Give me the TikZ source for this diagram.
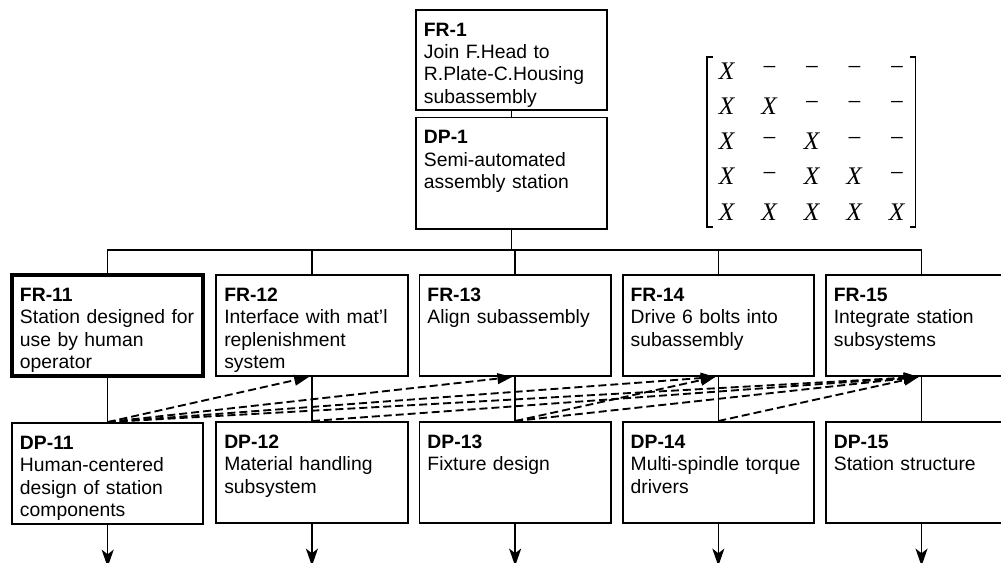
\documentclass[tikz,border=0pt]{standalone}
\usepackage{fontspec}
\setmainfont{Liberation Sans}
\newfontfamily\mtxfont{Liberation Serif}
\usepackage{tikz}
\usetikzlibrary{arrows.meta,positioning,matrix}
\newcommand{\nx}{\textit{X}}
\newcommand{\nd}{\char"2212}

\begin{document}
\begin{tikzpicture}[x=0.75pt,y=-0.75pt,
  font=\fontsize{14.5}{16.75}\selectfont,
  box/.style={draw,line width=1.4pt,align=left,inner xsep=6pt,inner ysep=6pt,
              text width=131.5pt,text height=13.8pt,text depth=50pt},
  ln/.style={line width=1.2pt},
  ar/.style={line width=1.2pt,-{Stealth[length=13pt,width=9pt,inset=3.5pt]}},
  dep/.style={line width=1.4pt,dash pattern=on 6pt off 3pt,
              -{Triangle[length=11pt,width=8pt]}},
  brk/.style={line width=1.2pt}]
\useasboundingbox (0,0) rectangle (1001,563);
% top level
\node[box,anchor=north west,text depth=49pt] (fr1) at (415,9)
  {\textbf{FR-1}\\Join F.Head to\\R.Plate-C.Housing\\subassembly};
\node[box,below=4.5pt of fr1,text depth=58pt] (dp1)
  {\textbf{DP-1}\\Semi-automated\\assembly station};
% second level FRs
\node[box,line width=3pt,anchor=north west] (fr11) at (10,273)
  {\textbf{FR-11}\\Station designed for\\use by human\\operator};
\node[box,right=7.5pt of fr11] (fr12)
  {\textbf{FR-12}\\Interface with mat'l\\replenishment\\system};
\node[box,right=7.5pt of fr12] (fr13) {\textbf{FR-13}\\Align subassembly};
\node[box,right=7.5pt of fr13] (fr14)
  {\textbf{FR-14}\\Drive 6 bolts into\\subassembly};
\node[box,right=7.5pt of fr14] (fr15)
  {\textbf{FR-15}\\Integrate station\\subsystems};
% second level DPs
\node[box,below=33pt of fr11] (dp11)
  {\textbf{DP-11}\\Human-centered\\design of station\\components};
\node[box,below=33pt of fr12] (dp12)
  {\textbf{DP-12}\\Material handling\\subsystem};
\node[box,below=33pt of fr13] (dp13) {\textbf{DP-13}\\Fixture design};
\node[box,below=33pt of fr14] (dp14)
  {\textbf{DP-14}\\Multi-spindle torque\\drivers};
\node[box,below=33pt of fr15] (dp15) {\textbf{DP-15}\\Station structure};
% design matrix
\matrix (dsm) [matrix of nodes,ampersand replacement=\&,inner sep=0pt,
  nodes={font=\mtxfont\fontsize{19}{19}\selectfont,minimum width=31.9pt,
         minimum height=26.4pt,inner sep=0pt,anchor=center}] at (812,141.5) {
  \nx \& \nd \& \nd \& \nd \& \nd \\
  \nx \& \nx \& \nd \& \nd \& \nd \\
  \nx \& \nd \& \nx \& \nd \& \nd \\
  \nx \& \nd \& \nx \& \nx \& \nd \\
  \nx \& \nx \& \nx \& \nx \& \nx \\
};
\draw[brk] ([shift={(7.5,3.5)}]dsm.north west) -| ([shift={(1.5,-2.5)}]dsm.south west) -- ++(6,0);
\draw[brk] ([shift={(-9,3.5)}]dsm.north east) -| ([shift={(-3,-2.5)}]dsm.south east) -- ++(-6,0);
% tree
\coordinate (bus) at (512,250);
\draw[ln] (fr1) -- (dp1);
\draw[ln] (dp1.south) -- (dp1.south |- bus);
\draw[ln] (fr11.north) |- (bus) -| (fr15.north);
\foreach \i in {12,13,14}
  \draw[ln] (fr\i.north) -- (fr\i.north |- bus);
\foreach \i in {11,...,15}{
  \draw[ln] (fr\i) -- (dp\i);
  \coordinate (sub\i) at ([yshift=-31.5pt]dp\i.south);
  \draw[ar] (dp\i) -- (sub\i);
}
% off-diagonal couplings
\foreach \a/\b in {11/12,11/13,11/14,11/15,12/15,13/14,13/15,14/15}
  \draw[dep] (dp\a.north) -- ([xshift=-2.25pt]fr\b.south);
\end{tikzpicture}
\end{document}
